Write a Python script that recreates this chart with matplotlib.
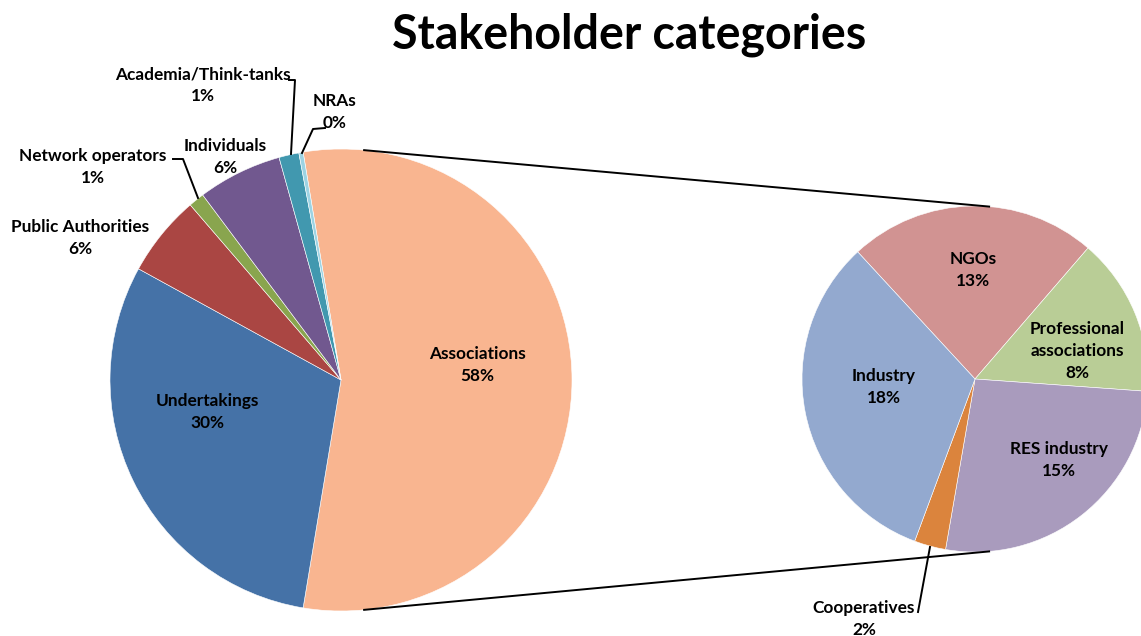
import numpy as np
import matplotlib.pyplot as plt

plt.rcParams['font.family'] = ['Lato', 'DejaVu Sans']

W, H = 1141, 636

# main pie, clockwise from the "Associations" slice
main_names = ['Associations', 'Undertakings', 'Public Authorities', 'Network operators',
              'Individuals', 'Academia/Think-tanks', 'NRAs']
main_share = [55.3, 30.4, 5.7, 1.1, 5.9, 1.4, 0.3]
main_pct = ['58%', '30%', '6%', '1%', '6%', '1%', '0%']
main_colors = ['#F9B590', '#4572A7', '#AA4643', '#89A54E', '#71588F', '#4198AF', '#9DD3E3']

# secondary pie (split of Associations), clockwise from NGOs
sub_names = ['NGOs', 'Professional\nassociations', 'RES industry', 'Cooperatives', 'Industry']
sub_share = [13.0, 8.3, 14.9, 1.65, 18.2]
sub_pct = ['13%', '8%', '15%', '2%', '18%']
sub_colors = ['#D19392', '#B9CD96', '#A99BBD', '#DB843D', '#93A9CF']


def Y(y):
    return H - y


fig = plt.figure(figsize=(W / 100, H / 100), dpi=100)
ax = fig.add_axes([0, 0, 1, 1])

c1, r1 = (341, Y(380)), 231
c2, r2 = (975, Y(379)), 173

start1 = 180 * main_share[0] / sum(main_share)
ax.pie(main_share, colors=main_colors, center=c1, radius=r1, startangle=start1,
       counterclock=False, wedgeprops=dict(edgecolor='white', linewidth=0.4))
ax.pie(sub_share, colors=sub_colors, center=c2, radius=r2, startangle=132.7,
       counterclock=False, wedgeprops=dict(edgecolor='white', linewidth=0.4))


def rim(c, r, cw_deg):
    a = np.radians(90 - cw_deg)
    return c[0] + r * np.cos(a), c[1] + r * np.sin(a)


# connector lines between the two pies
for a1, a2 in [(5.5, 5.0), (174.5, 175.0)]:
    p, q = rim(c1, r1, a1), rim(c2, r2, a2)
    ax.plot([p[0], q[0]], [p[1], q[1]], color='black', lw=1.4, solid_capstyle='butt')

# label positions (pixel centres)
main_pos = [(477, 365), (207, 412), (80, 238), (93, 167), (225, 157), (203, 85), (335, 112)]
sub_pos = [(973, 270), (1077, 351), (1059, 460), (864, 619), (884, 387)]

for name, pct, (x, y) in zip(main_names, main_pct, main_pos):
    ax.text(x, Y(y), name + '\n' + pct, ha='center', va='center', fontsize=12.4,
            fontweight='bold', linespacing=1.45)
for name, pct, (x, y) in zip(sub_names, sub_pct, sub_pos):
    ax.text(x, Y(y), name + '\n' + pct, ha='center', va='center', fontsize=12.4,
            fontweight='bold', linespacing=1.45)

# leader lines
leaders = [
    [(173, 159), (183, 159), (198, 198)],
    [(289, 80), (295, 80), (291, 154)],
    [(325, 128), (313, 129), (302, 153)],
    [(918, 612), (930, 547)],
]
for pts in leaders:
    xs = [p[0] for p in pts]
    ys = [Y(p[1]) for p in pts]
    ax.plot(xs, ys, color='black', lw=1.4)

ax.text(629, Y(35), 'Stakeholder categories', ha='center', va='center', fontsize=33.5,
        fontweight='bold')

ax.set_xlim(0, W)
ax.set_ylim(0, H)
ax.set_aspect('equal')
ax.axis('off')

fig.savefig('out.png', dpi=100)
